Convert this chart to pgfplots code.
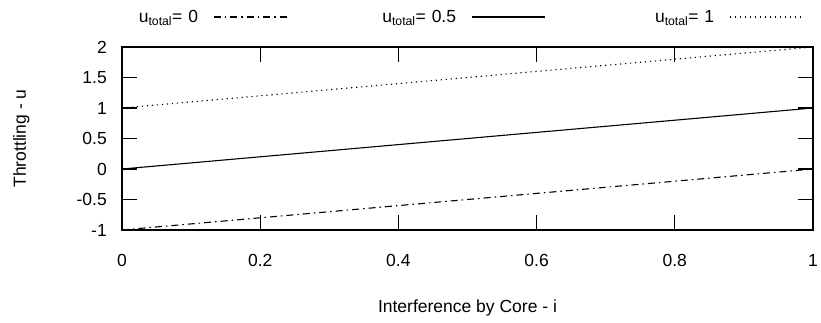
\documentclass[border=0pt]{standalone}
\usepackage{pgfplots}
\pgfplotsset{compat=1.18}
\usepackage{fontspec}
\setmainfont{Liberation Sans}
\newcommand{\ff}{\fontsize{17.5bp}{21bp}\selectfont}
\begin{document}
\begin{tikzpicture}
\path[use as bounding box] (-122bp,-93bp) rectangle (699bp,230bp);
\begin{axis}[
  at={(0,0)}, anchor=south west,
  scale only axis, width=691bp, height=183bp,
  xmin=0, xmax=1, ymin=-1, ymax=2,
  xtick={0,0.2,0.4,0.6,0.8,1},
  ytick={-1,-0.5,0,0.5,1,1.5,2},
  /pgf/number format/assume math mode=true,
  tick label style={font=\ff},
  xticklabel style={inner sep=0pt, yshift=-24bp},
  yticklabel style={inner sep=0pt, xshift=-15bp},
  tick align=inside, major tick length=15bp,
  every tick/.style={line width=1.3bp, black},
  axis line style={line width=1.6bp},
  xlabel={Interference by Core - i},
  ylabel={Throttling - u},
  every axis x label/.style={at={(rel axis cs:0.5,0)}, anchor=base, yshift=-82bp, font=\ff},
  every axis y label/.style={at={(rel axis cs:0,0.5)}, xshift=-96bp, rotate=90, anchor=base, font=\ff},
  legend plot pos=right,
  legend columns=3,
  legend image code/.code={\draw[#1] (0bp,0bp) -- (73bp,0bp);},
  legend style={draw=none, fill=none, font=\ff, inner sep=0pt, outer sep=0pt,
    at={(rel axis cs:0,1)}, anchor=west, xshift=-24bp, yshift=30bp,
    nodes={inner sep=0pt, text width=100bp, align=right},
    /tikz/every odd column/.append style={column sep=15bp},
    /tikz/every even column/.append style={column sep=69bp}},
]
\addplot[black, line width=1.1bp, dash pattern=on 7bp off 4bp on 1.5bp off 4bp] coordinates {(0,-1) (1,0)};
\addlegendentry{u\textsubscript{total}= 0}
\addplot[black, line width=1.1bp] coordinates {(0,0) (1,1)};
\addlegendentry{u\textsubscript{total}= 0.5}
\addplot[black, line width=1.1bp, dash pattern=on 1.2bp off 3.8bp] coordinates {(0,1) (1,2)};
\addlegendentry{u\textsubscript{total}= 1}
\end{axis}
\end{tikzpicture}
\end{document}
